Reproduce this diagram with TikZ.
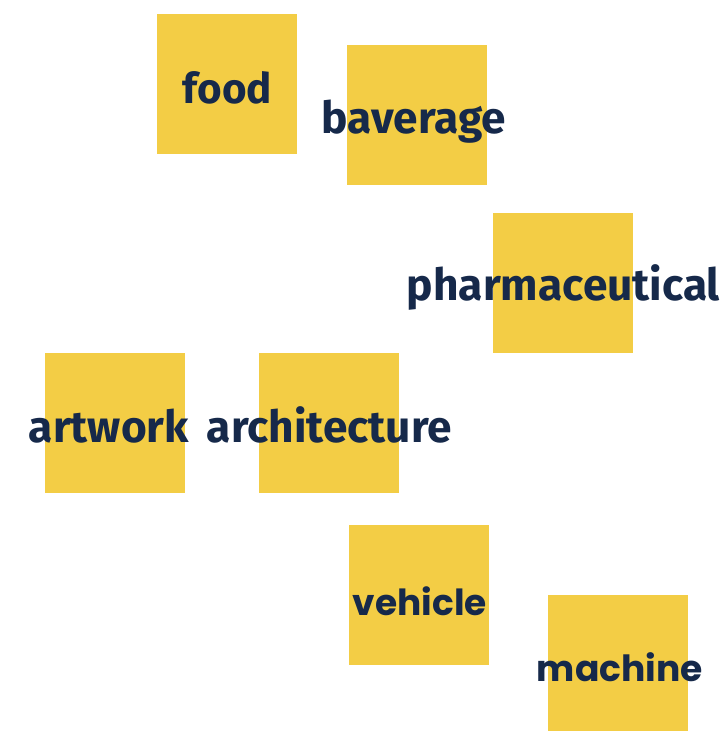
\documentclass[tikz,border=0pt]{standalone}
\usepackage{fontspec}
\setmainfont{Fira Sans}
\newfontfamily\popfont{Poppins}
\definecolor{sq}{HTML}{F3CD45}
\definecolor{ink}{HTML}{16294A}
\newcommand{\fitw}[2]{\resizebox{#1pt}{!}{#2}}
\begin{document}
\begin{tikzpicture}[x=1pt,y=-1pt,
  sqbox/.style={fill=sq,draw=none,minimum width=140pt,minimum height=140pt,inner sep=0pt},
  lbl/.style={text=ink,inner sep=0pt,anchor=base,font=\bfseries}]
\useasboundingbox (0,0) rectangle (725,731);
\node[sqbox] (sfood) at (227,84) {};
\node[sqbox] (sbav) at (417,115) {};
\node[sqbox] (spharm) at (562.5,282.5) {};
\node[sqbox] (sart) at (114.5,422.5) {};
\node[sqbox] (sarch) at (328.5,422.5) {};
\node[sqbox] (sveh) at (418.5,594.5) {};
\node[sqbox] (smach) at (617.5,665) {};
\node[lbl] (tfood) at (227.5,103) {\fitw{89}{food}};
\node[lbl] (tbav) at (414,133) {\fitw{184}{baverage}};
\node[lbl] (tpharm) at (563.5,300) {\fitw{313}{pharmaceutical}};
\node[lbl] (tart) at (109,442) {\fitw{160}{artwork}};
\node[lbl] (tarch) at (329.5,442) {\fitw{245}{architecture}};
\node[lbl,font=\popfont\bfseries] (tveh) at (420,615) {\fitw{134}{vehicle}};
\node[lbl,font=\popfont\bfseries] (tmach) at (620,681) {\fitw{166}{machine}};
\end{tikzpicture}
\end{document}
